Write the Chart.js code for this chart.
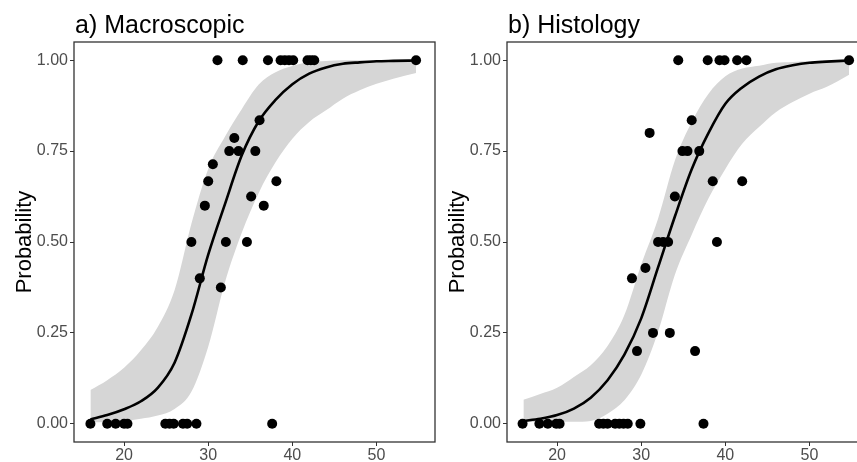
<!DOCTYPE html>
<html>
<head>
<meta charset="utf-8">
<script src="https://cdn.jsdelivr.net/npm/chart.js@4.4.0/dist/chart.umd.min.js"></script>
<style>
  html, body { margin: 0; padding: 0; background: #fff; overflow: hidden; }
  body { width: 857px; height: 462px; position: relative; }
  canvas { position: absolute; top: 0; }
  #panelA { left: 0; }
  #panelB { left: 433px; }
</style>
</head>
<body>
<canvas id="panelA" width="440" height="462"></canvas>
<canvas id="panelB" width="440" height="462"></canvas>
<script>
// ticks
const xTicks = [20, 30, 40, 50];
const yTicks = [0, 0.25, 0.5, 0.75, 1];

const fitX = [16, 18, 20, 22, 24, 26, 28, 30, 32, 34, 36, 38, 40, 42, 44, 46, 48, 50, 52, 54.7];

// a) Macroscopic - observed proportions
const macroX = [31.1, 34.1, 37.1, 38.6, 39.1, 39.6, 40.1, 41.8, 42.2, 42.6, 54.7,
                36.1, 33.1, 32.5, 33.6, 35.6, 30.55, 30.0, 38.1, 35.1, 29.6, 36.6,
                28.0, 32.1, 34.6, 29.0, 31.5,
                16.0, 18.0, 19.0, 20.0, 20.4, 24.9, 25.4, 25.9, 27.0, 27.5, 28.6, 37.6];
const macroY = [1, 1, 1, 1, 1, 1, 1, 1, 1, 1, 1,
                0.835, 0.786, 0.75, 0.75, 0.75, 0.714, 0.667, 0.667, 0.625, 0.6, 0.6,
                0.5, 0.5, 0.5, 0.4, 0.375,
                0, 0, 0, 0, 0, 0, 0, 0, 0, 0, 0, 0];
const macroFit = [0.012, 0.024, 0.040, 0.062, 0.099, 0.168, 0.300, 0.465, 0.605, 0.739, 0.832, 0.891,
                  0.934, 0.963, 0.980, 0.990, 0.994, 0.997, 0.998, 0.999];
const macroHi = [0.093, 0.120, 0.154, 0.202, 0.266, 0.367, 0.550, 0.701, 0.790, 0.866, 0.933, 0.967,
                 0.984, 0.995, 0.998, 1.0, 1.0, 1.0, 1.0, 1.0];
const macroLo = [0.004, 0.005, 0.008, 0.014, 0.023, 0.041, 0.088, 0.212, 0.390, 0.526, 0.635, 0.719,
                 0.784, 0.830, 0.862, 0.894, 0.917, 0.935, 0.949, 0.965];

// b) Histology - observed proportions
const histoX = [34.4, 37.9, 39.3, 39.9, 41.4, 42.5, 54.7,
                36.0, 31.0, 34.9, 35.5, 36.9, 38.5, 42.0, 34.0,
                32.0, 32.6, 33.2, 39.0, 30.5, 28.9, 31.4, 33.4, 29.5, 36.4,
                15.9, 17.9, 18.9, 19.9, 20.3, 25.0, 25.5, 26.0, 26.9, 27.4, 27.9, 28.4, 29.9, 37.4];
const histoY = [1, 1, 1, 1, 1, 1, 1,
                0.835, 0.8, 0.75, 0.75, 0.75, 0.667, 0.667, 0.625,
                0.5, 0.5, 0.5, 0.5, 0.4286, 0.4, 0.25, 0.25, 0.2, 0.2,
                0, 0, 0, 0, 0, 0, 0, 0, 0, 0, 0, 0, 0, 0];
const histoFit = [0.008, 0.014, 0.024, 0.042, 0.072, 0.12, 0.19, 0.29, 0.43, 0.57, 0.70, 0.80,
                  0.88, 0.925, 0.955, 0.975, 0.986, 0.993, 0.996, 0.999];
const histoHi = [0.066, 0.082, 0.099, 0.129, 0.161, 0.214, 0.299, 0.438, 0.564, 0.724, 0.830, 0.908,
                 0.956, 0.977, 0.985, 0.993, 0.995, 0.997, 0.998, 0.999];
const histoLo = [0.005, 0.005, 0.006, 0.006, 0.008, 0.028, 0.065, 0.135, 0.253, 0.41, 0.52, 0.62,
                 0.701, 0.770, 0.816, 0.857, 0.885, 0.908, 0.926, 0.960];

const FONT = "'Liberation Sans', Arial, sans-serif";
Chart.defaults.font.family = FONT;

// panel title drawn at the left edge of the plot area
const panelTitle = {
  id: 'panelTitle',
  afterDraw(chart, args, opts) {
    const ctx = chart.ctx;
    ctx.save();
    ctx.font = '25px ' + FONT;
    ctx.fillStyle = '#000';
    ctx.textBaseline = 'alphabetic';
    ctx.textAlign = 'left';
    ctx.fillText(opts.text, chart.chartArea.left + 1, 33);
    ctx.restore();
  }
};

// black box round the panel
const frame = {
  id: 'frame',
  afterDraw(chart) {
    const a = chart.chartArea;
    const ctx = chart.ctx;
    ctx.save();
    ctx.strokeStyle = '#333';
    ctx.lineWidth = 1.3;
    ctx.strokeRect(a.left, a.top, a.right - a.left, a.bottom - a.top);
    ctx.restore();
  }
};

function buildPanel(id, title, ptX, ptY, fit, lo, hi) {
  const pts = ptX.map((x, i) => ({ x: x, y: ptY[i] }));
  const curve = arr => fitX.map((x, i) => ({ x: x, y: arr[i] }));

  return new Chart(document.getElementById(id), {
    type: 'scatter',
    data: {
      datasets: [
        { data: pts, pointRadius: 5, pointBackgroundColor: '#000', pointBorderWidth: 0, order: 0 },
        { type: 'line', data: curve(fit), borderColor: '#000', borderWidth: 2.6, pointRadius: 0,
          cubicInterpolationMode: 'monotone', fill: false, order: 1 },
        { type: 'line', data: curve(hi), borderWidth: 0, pointRadius: 0, backgroundColor: '#d6d6d6',
          cubicInterpolationMode: 'monotone', fill: '+1', order: 2 },
        { type: 'line', data: curve(lo), borderWidth: 0, pointRadius: 0,
          cubicInterpolationMode: 'monotone', fill: false, order: 3 }
      ]
    },
    options: {
      responsive: false,
      animation: false,
      events: [],
      layout: { padding: { top: 42, right: 5, left: 0, bottom: 0 } },
      plugins: {
        legend: { display: false },
        tooltip: { enabled: false },
        panelTitle: { text: title }
      },
      scales: {
        x: {
          type: 'linear', min: 14.05, max: 56.95,
          afterBuildTicks: s => { s.ticks = xTicks.map(v => ({ value: v })); },
          afterFit: s => { s.height = 20; },
          grid: { drawOnChartArea: false, drawTicks: true, tickLength: 4, color: '#333' },
          border: { display: false },
          ticks: { color: '#4d4d4d', font: { size: 16 }, padding: 0, maxRotation: 0 }
        },
        y: {
          min: -0.05, max: 1.05,
          afterBuildTicks: s => { s.ticks = yTicks.map(v => ({ value: v })); },
          afterFit: s => { s.width = 74; },
          grid: { drawOnChartArea: false, drawTicks: true, tickLength: 4, color: '#333' },
          border: { display: false },
          ticks: { color: '#4d4d4d', font: { size: 16 }, padding: 2, callback: v => v.toFixed(2) },
          title: { display: true, text: 'Probability', color: '#000', font: { size: 22 },
                   padding: { top: 12, bottom: 0 } }
        }
      }
    },
    plugins: [panelTitle, frame]
  });
}

buildPanel('panelA', 'a) Macroscopic', macroX, macroY, macroFit, macroLo, macroHi);
buildPanel('panelB', 'b) Histology', histoX, histoY, histoFit, histoLo, histoHi);
</script>
</body>
</html>
